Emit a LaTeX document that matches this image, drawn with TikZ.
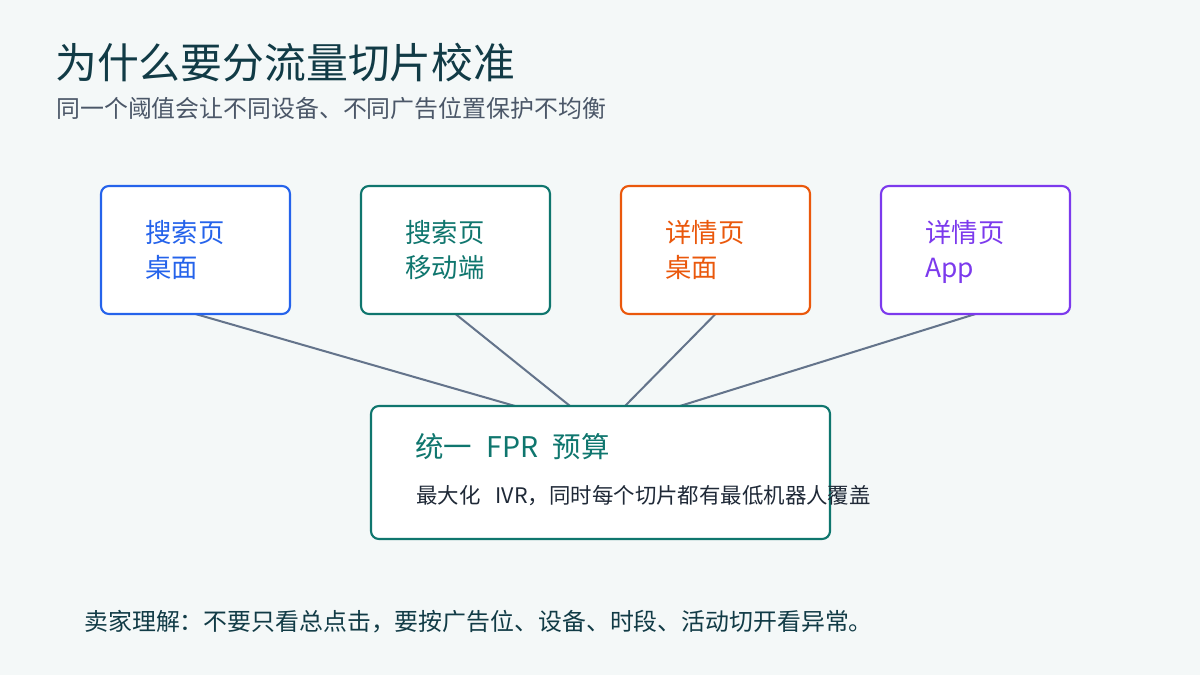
\documentclass[tikz,border=0pt]{standalone}
\usepackage{fontspec}
\setmainfont{Noto Sans CJK SC}
\newfontfamily\cjk{Noto Sans CJK SC}
\definecolor{bg}{HTML}{F4F8F8}
\definecolor{ttl}{HTML}{113B46}
\definecolor{sub}{HTML}{4B5768}
\definecolor{cblue}{HTML}{2563EB}
\definecolor{cteal}{HTML}{0F766E}
\definecolor{corange}{HTML}{EA580C}
\definecolor{cpurple}{HTML}{7C3AED}
\definecolor{conn}{HTML}{64748B}
\definecolor{dark}{HTML}{1F2937}
\begin{document}
\begin{tikzpicture}[x=0.02cm,y=-0.02cm,
  card/.style={draw=#1,line width=1.2pt,fill=white,rounded corners=4.5pt,inner sep=0pt,minimum width=189*0.02cm,minimum height=128*0.02cm},
  cardtext/.style={anchor=north west,inner sep=0pt,text=#1,font=\fontsize{15}{19.8}\selectfont,align=left},
  link/.style={draw=conn,line width=1.15pt}]
\fill[bg] (0,0) rectangle (1200,675);
\useasboundingbox (0,0) rectangle (1200,675);
\node[anchor=west,inner sep=0pt,text=ttl,font=\fontsize{23.8}{27}\selectfont] (title) at (55,63) {为什么要分流量切片校准};
\node[anchor=west,inner sep=0pt,text=sub,font=\fontsize{13.6}{16}\selectfont] (subtitle) at (56,108) {同一个阈值会让不同设备、不同广告位置保护不均衡};
% connectors (drawn first)
\coordinate (b1) at (195.5,314);
\coordinate (b2) at (455.5,314);
\coordinate (b3) at (715.5,314);
\coordinate (b4) at (975.5,314);
\coordinate (t1) at (515,406);
\coordinate (t2) at (570,406);
\coordinate (t3) at (625,406);
\coordinate (t4) at (680,406);
\draw[link] (b1) -- (t1);
\draw[link] (b2) -- (t2);
\draw[link] (b3) -- (t3);
\draw[link] (b4) -- (t4);
% cards
\node[card=cblue] (c1) at (195.5,250) {};
\node[card=cteal] (c2) at (455.5,250) {};
\node[card=corange] (c3) at (715.5,250) {};
\node[card=cpurple] (c4) at (975.5,250) {};
\node[cardtext=cblue] (l1) at (145,220) {搜索页\\桌面};
\node[cardtext=cteal] (l2) at (405,220) {搜索页\\移动端};
\node[cardtext=corange] (l3) at (665,220) {详情页\\桌面};
\node[cardtext=cpurple] (l4) at (925,220) {详情页\\App};
% center box
\node[draw=cteal,line width=1.2pt,fill=white,rounded corners=4.5pt,inner sep=0pt,minimum width=459*0.02cm,minimum height=133*0.02cm] (center) at (600.5,472.5) {};
\node[anchor=west,inner sep=0pt,text=cteal,font=\fontsize{16.2}{18}\selectfont] (ctitle) at (415,447) {统一\hspace{0.5em}FPR\hspace{0.5em}预算};
\node[anchor=west,inner sep=0pt,text=dark,font=\fontsize{12.2}{14}\selectfont] (cdesc) at (416,496) {最大化\hspace{0.7em}IVR，同时每个切片都有最低机器人覆盖};
% bottom note
\node[anchor=west,inner sep=0pt,text=ttl,font=\fontsize{13.6}{16}\selectfont] (note) at (84,622) {卖家理解：不要只看总点击，要按广告位、设备、时段、活动切开看异常。};
\end{tikzpicture}
\end{document}
